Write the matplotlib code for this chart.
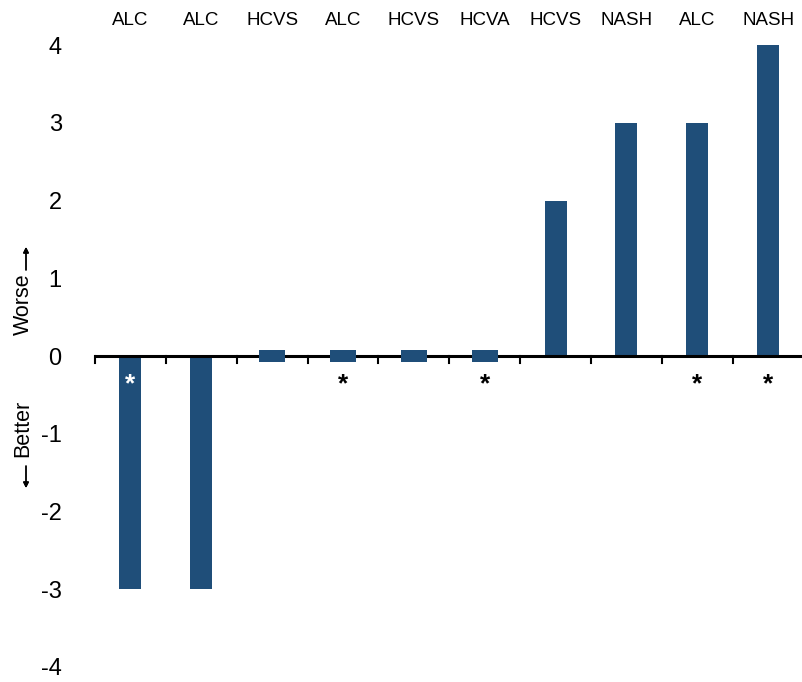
import numpy as np
import matplotlib
matplotlib.use('Agg')
import matplotlib.pyplot as plt

plt.rcParams['font.family'] = ['Liberation Sans', 'DejaVu Sans']
plt.rcParams['axes.unicode_minus'] = False  # 负号用普通连字符

# 各组别与得分
groups = ['ALC', 'ALC', 'HCVS', 'ALC', 'HCVS', 'HCVA', 'HCVS', 'NASH', 'ALC', 'NASH']
scores = [-3, -3, 0, 0, 0, 0, 2, 3, 3, 4]
# 显著性标记
significant = [True, False, False, True, False, True, False, False, True, True]

bar_color = '#1F4E79'
stub = 0.075  # 零值用一小段居中方块表示

fig = plt.figure(figsize=(8.02, 6.82), dpi=100)
ax = fig.add_axes([0.1185, 0.022, 0.8835, 0.912])

for i, v in enumerate(scores):
    if v == 0:
        ax.bar(i, 2 * stub, bottom=-stub, width=0.37, color=bar_color, zorder=4)
    else:
        ax.bar(i, v, width=0.31, color=bar_color, zorder=2)

# 零线和类别分隔刻度
ax.axhline(0, color='black', lw=2.2, zorder=3)
for b in np.arange(-0.5, len(scores) + 0.5, 1):
    ax.plot([b, b], [0, -0.09], color='black', lw=1.5, zorder=3, clip_on=False)

# 星号
for i, s in enumerate(significant):
    if s:
        c = 'white' if scores[i] < 0 else 'black'
        ax.text(i, -0.36, '*', ha='center', va='center', fontsize=19,
                fontweight='bold', color=c, zorder=5)

# 顶部组别标签
for i, g in enumerate(groups):
    ax.text(i, 4.31, g, ha='center', va='center', fontsize=13.5, clip_on=False)

ax.set_xlim(-0.5, len(scores) - 0.5)
ax.set_ylim(-4, 4)
ax.set_yticks(range(-4, 5))
ax.set_xticks([])
ax.tick_params(axis='y', length=0, pad=24, labelsize=17)
for sp in ax.spines.values():
    sp.set_visible(False)

# 左侧方向说明
W, H = 802, 682
fig.text(23 / W, 1 - 304 / H, 'Worse', rotation=90, ha='center', va='center', fontsize=15.5)
fig.text(23 / W, 1 - 428 / H, 'Better', rotation=90, ha='center', va='center', fontsize=15.5)
arrow = dict(arrowstyle='-|>', lw=1.0, color='black', mutation_scale=8, shrinkA=0, shrinkB=0)
fig.add_artist(plt.annotate('', xy=(26 / W, 1 - 247 / H), xytext=(26 / W, 1 - 270 / H),
                            xycoords='figure fraction', arrowprops=arrow))
fig.add_artist(plt.annotate('', xy=(26 / W, 1 - 488 / H), xytext=(26 / W, 1 - 466 / H),
                            xycoords='figure fraction', arrowprops=arrow))

plt.savefig('out.png', dpi=100)
